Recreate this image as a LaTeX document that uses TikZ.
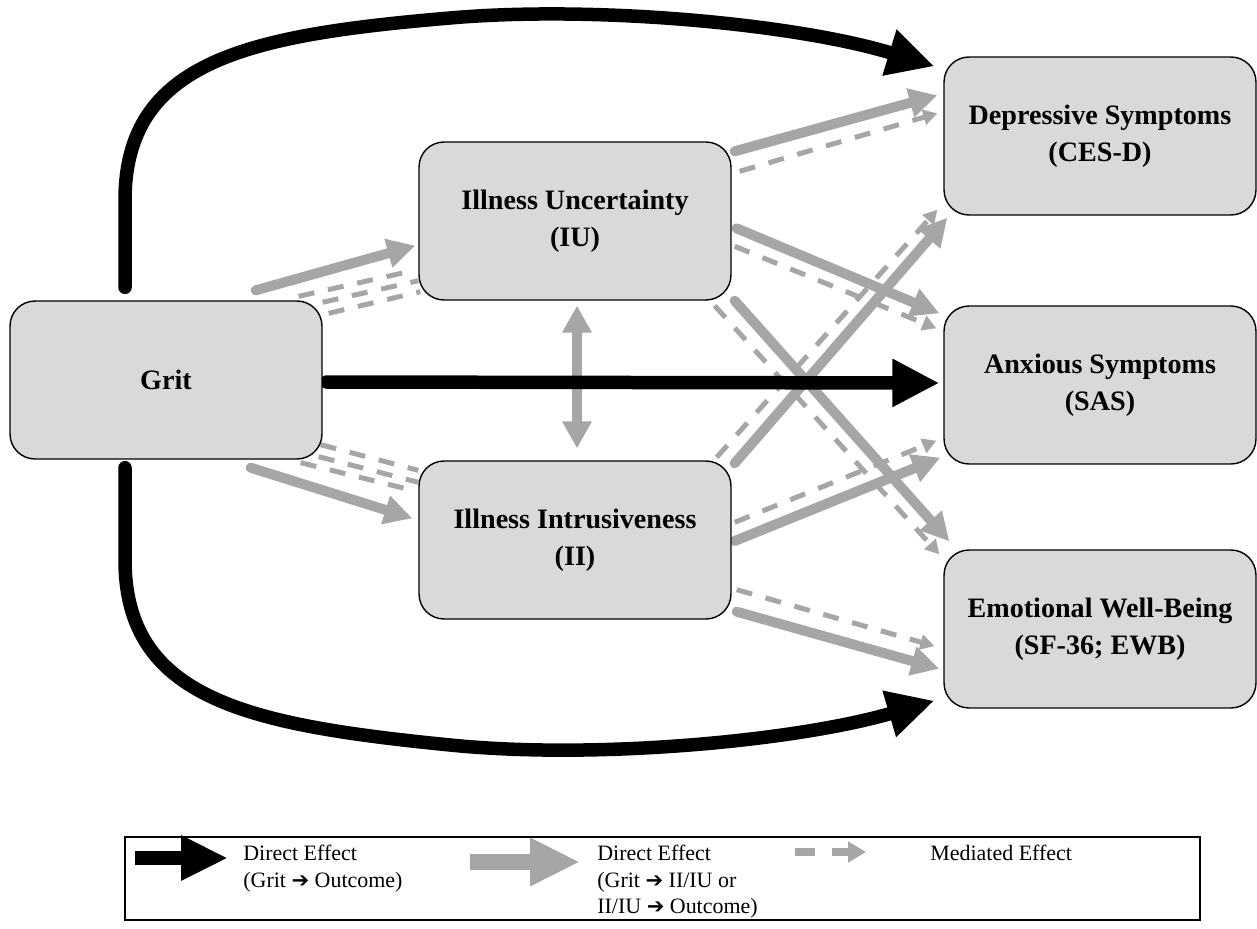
\documentclass[tikz,border=0pt]{standalone}
\usepackage{fontspec}
\setmainfont{Liberation Serif}
\newfontfamily\arrowfont{DejaVu Sans}
\usetikzlibrary{arrows.meta,calc}
\definecolor{boxgray}{HTML}{D9D9D9}
\definecolor{pathgray}{HTML}{A6A6A6}
\pgfdeclarelayer{bg}
\pgfsetlayers{bg,main}
\newcommand{\rarr}{{\arrowfont\fontsize{12}{12}\selectfont\char"2794}}

\begin{document}
\begin{tikzpicture}[x=0.02cm, y=-0.02cm,
    factor/.style={draw=black, line width=0.8pt, fill=boxgray, rounded corners=0.5cm,
      minimum width=6.24cm, minimum height=3.16cm, align=center,
      font=\bfseries\fontsize{16}{21}\selectfont},
    direct/.style={line width=0.27cm, line cap=round, -{Triangle[length=0.94cm,width=0.9cm]}},
    indirect/.style={draw=pathgray, line width=0.2cm, line cap=round, -{Triangle[length=0.56cm,width=0.56cm]}},
    mediated/.style={draw=pathgray, line width=0.1cm, dash pattern=on 0.32cm off 0.28cm, -{Triangle[length=0.28cm,width=0.3cm]}},
    mediatedline/.style={draw=pathgray, line width=0.1cm, dash pattern=on 0.32cm off 0.28cm},
    legendtext/.style={anchor=north west, align=left, inner sep=0pt, font=\fontsize{12.5}{15}\selectfont}]
  \useasboundingbox (0,0) rectangle (1257,929);
    \node[factor] (grit) at (166,380) {Grit};
    \node[factor] (iu) at (575,221) {Illness Uncertainty\\(IU)};
    \node[factor] (ii) at (575,540) {Illness Intrusiveness\\(II)};
    \node[factor] (dep) at (1100,136) {Depressive Symptoms\\(CES-D)};
    \node[factor] (anx) at (1100,385) {Anxious Symptoms\\(SAS)};
    \node[factor] (ewb) at (1100,629) {Emotional Well-Being\\(SF-36; EWB)};
  \begin{pgfonlayer}{bg}
    % mediated effects
    \draw[mediatedline] ($(grit.north east)+(-24,-4)$) -- ($(iu.south west)+(-10,-29)$);
    \draw[mediatedline] ($(grit.north east)+(0,2)$) -- ($(iu.south west)+(0,-20)$);
    \draw[mediatedline] ($(grit.north east)+(6,13)$) -- ($(iu.south west)+(2,-9)$);
    \draw[mediatedline] ($(grit.south east)+(-2,-15)$) -- ($(ii.north west)+(0,10)$);
    \draw[mediatedline] ($(grit.south east)+(-4,-3)$) -- ($(ii.north west)+(0,22)$);
    \draw[mediatedline] ($(grit.south east)+(-22,3)$) -- ($(ii.north west)+(-14,28)$);
    \draw[mediated] ($(iu.north east)+(8,30)$) -- ($(dep.north west)+(-6,57)$);
    \draw[mediated] ($(iu.north east)+(3,105)$) -- ($(anx.north west)+(-7,23)$);
    \draw[mediated] ($(iu.south east)+(-17,5)$) -- ($(ewb.north west)+(-4,5)$);
    \draw[mediated] ($(ii.north east)+(-15,-3)$) -- ($(dep.south west)+(-6,-6)$);
    \draw[mediated] ($(ii.north east)+(3,62)$) -- ($(anx.south west)+(-7,-24)$);
    \draw[mediated] ($(ii.south east)+(5,-30)$) -- ($(ewb.west)+(-9,17)$);
    % grit -> II/IU, II/IU -> outcome
    \draw[indirect] ($(grit.north east)+(-67,-10)$) -- ($(iu.south west)+(-3,-55)$);
    \draw[indirect] ($(grit.south east)+(-72,8)$) -- ($(ii.north west)+(-6,58)$);
    \draw[indirect] ($(iu.north east)+(3,10)$) -- ($(dep.north west)+(-6,39)$);
    \draw[indirect] ($(iu.north east)+(5,87)$) -- ($(anx.north west)+(-4,8)$);
    \draw[indirect] ($(iu.south east)+(3,0)$) -- ($(ewb.north west)+(6,-8)$);
    \draw[indirect] ($(ii.north east)+(3,3)$) -- ($(dep.south west)+(4,2)$);
    \draw[indirect] ($(ii.east)+(3,1)$) -- ($(anx.south west)+(-3,-7)$);
    \draw[indirect] ($(ii.south east)+(5,-8)$) -- ($(ewb.south west)+(-4,-40)$);
    \draw[indirect, {Triangle[length=0.54cm,width=0.56cm]}-{Triangle[length=0.54cm,width=0.56cm]}]
      ($(iu.south)+(2,5)$) -- ($(ii.north)+(2,-12)$);
    % grit -> outcome
    \draw[direct] ($(grit.north)+(-41,-13)$) -- ++(0,-87)
      .. controls (125,60) and (250,35) .. (450,18)
      .. controls (600,5) and (800,25) .. ($(dep.north west)+(-9,10)$);
    \draw[direct] ($(grit.east)+(4,2)$) -- ($(anx.west)+(-4,-2)$);
    \draw[direct] ($(grit.south)+(-41,8)$) -- ++(0,92)
      .. controls (125,700) and (250,725) .. (450,745)
      .. controls (600,760) and (800,740) .. ($(ewb.south west)+(-9,-8)$);
  \end{pgfonlayer}
    % legend
    \draw[line width=1.2pt] (125,837) rectangle (1200,920);
    \draw[line width=0.28cm, -{Triangle[length=0.94cm,width=0.84cm]}] (135,858) -- (228,858);
    \node[legendtext] (lgdirect) at (243,845) {Direct Effect\\(Grit \rarr\ Outcome)};
    \draw[pathgray, line width=0.32cm, -{Triangle[length=1cm,width=0.9cm]}] (470,862) -- (580,862);
    \node[legendtext] (lgpath) at (597,845) {Direct Effect\\(Grit \rarr\ II/IU or\\II/IU \rarr\ Outcome)};
    \draw[pathgray, line width=0.16cm] (795,852) -- (815,852);
    \draw[pathgray, line width=0.16cm, -{Triangle[length=0.36cm,width=0.4cm]}] (832,852) -- (866,852);
    \node[legendtext] (lgmed) at (930,845) {Mediated Effect};
\end{tikzpicture}
\end{document}
